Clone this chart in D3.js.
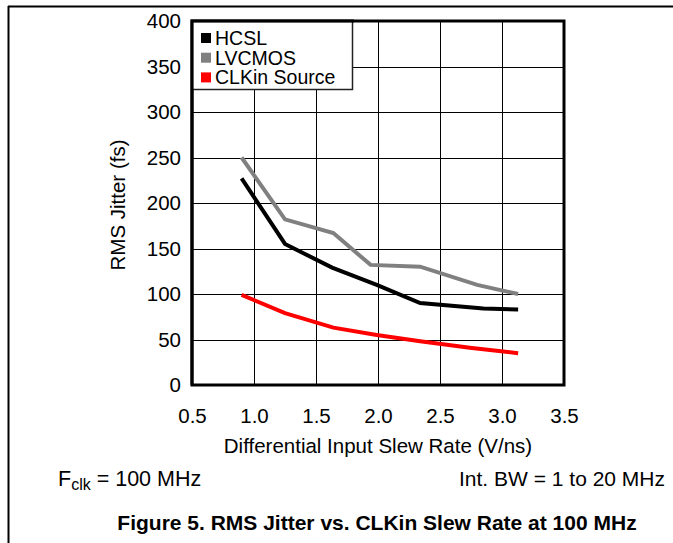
<!DOCTYPE html>
<html><head><meta charset="utf-8">
<script src="https://cdn.jsdelivr.net/npm/d3@7"></script>
<style>body{margin:0;background:#fff}svg{display:block}text{font-family:Arial,"Liberation Sans",sans-serif}</style>
</head><body>
<svg id="c" width="673" height="543"></svg>
<script>
const xTicks = [0.5,1.0,1.5,2.0,2.5,3.0,3.5];
const yTicks = [0,50,100,150,200,250,300,350,400];
const seriesNames = ["HCSL","LVCMOS","CLKin Source"];
const seriesColors = ["#000000","#808080","#ff0000"];
const hcslX = [0.9,1.25,1.63,1.99,2.34,2.85,3.13];
const hcslY = [227,155,129,110,90,84,83];
const lvcmosX = [0.9,1.25,1.64,1.94,2.34,2.80,3.13];
const lvcmosY = [250,182,167,132,130,110,100];
const clkX = [0.9,1.25,1.64,1.99,2.34,2.74,3.13];
const clkY = [99,79,63,55,48,41,35];

const FS = 20.5;
const svg = d3.select("#c");
const L=192, R=564, T=21, B=385;
const x = d3.scaleLinear().domain([0.5,3.5]).range([L,R]);
const y = d3.scaleLinear().domain([0,400]).range([B,T]);

// page frame
svg.append("line").attr("x1",8).attr("x2",673).attr("y1",6.5).attr("y2",6.5).attr("stroke","#000").attr("stroke-width",2);
svg.append("line").attr("x1",8.5).attr("x2",8.5).attr("y1",6).attr("y2",543).attr("stroke","#000").attr("stroke-width",2);

// grid
const g = svg.append("g").attr("shape-rendering","crispEdges");
g.selectAll("line.v").data(xTicks.slice(1,-1)).join("line")
  .attr("x1",d=>Math.round(x(d))+0.5).attr("x2",d=>Math.round(x(d))+0.5).attr("y1",T).attr("y2",B)
  .attr("stroke","#000").attr("stroke-width",1);
g.selectAll("line.h").data(yTicks.slice(1,-1)).join("line")
  .attr("y1",d=>Math.round(y(d))+0.5).attr("y2",d=>Math.round(y(d))+0.5).attr("x1",L).attr("x2",R)
  .attr("stroke","#000").attr("stroke-width",1);

// axes labels
const yAxis = d3.axisLeft(y).tickValues(yTicks).tickSize(0).tickPadding(11).tickFormat(d3.format("d"));
const ya = svg.append("g").attr("transform",`translate(${L},0)`).call(yAxis);
ya.select(".domain").remove();
ya.selectAll("text").attr("font-size",FS).attr("fill","#000").attr("font-family","Arial,'Liberation Sans',sans-serif");
const xAxis = d3.axisBottom(x).tickValues(xTicks).tickSize(0).tickPadding(23).tickFormat(d3.format(".1f"));
const xa = svg.append("g").attr("transform",`translate(0,${B})`).call(xAxis);
xa.select(".domain").remove();
xa.selectAll("text").attr("font-size",FS).attr("fill","#000").attr("font-family","Arial,'Liberation Sans',sans-serif");

// series
const line = d3.line().x(d=>x(d[0])).y(d=>y(d[1]));
const data = [d3.zip(hcslX,hcslY), d3.zip(lvcmosX,lvcmosY), d3.zip(clkX,clkY)];
[1,0,2].forEach(i=>{
  svg.append("path").datum(data[i]).attr("d",line).attr("fill","none")
    .attr("stroke",seriesColors[i]).attr("stroke-width",4).attr("stroke-linejoin","miter");
});

// frame
svg.append("rect").attr("x",L).attr("y",T).attr("width",R-L).attr("height",B-T)
  .attr("fill","none").attr("stroke","#000").attr("stroke-width",3);

// legend
const lg = svg.append("g");
lg.append("rect").attr("x",L+0.5).attr("y",T+0.5).attr("width",160).attr("height",68)
  .attr("fill","#fff").attr("stroke","#222").attr("stroke-width",1.5);
seriesNames.forEach((n,i)=>{
  const cy = 38 + i*19.7;
  lg.append("rect").attr("x",201).attr("y",cy-5).attr("width",10).attr("height",10).attr("fill",seriesColors[i]);
  lg.append("text").attr("x",215).attr("y",cy+7).attr("font-size",19.5).text(n);
});
svg.append("path").attr("d",`M${L},${B} V${T} H${L+162}`).attr("fill","none").attr("stroke","#000").attr("stroke-width",3);

// titles
svg.append("text").attr("transform","translate(125,205) rotate(-90)").attr("text-anchor","middle")
  .attr("font-size",FS).text("RMS Jitter (fs)");
svg.append("text").attr("x",378).attr("y",453).attr("text-anchor","middle").attr("font-size",FS)
  .text("Differential Input Slew Rate (V/ns)");
const f = svg.append("text").attr("x",58).attr("y",486).attr("font-size",21.5);
f.append("tspan").text("F");
f.append("tspan").attr("font-size",16).attr("dy",4).text("clk");
f.append("tspan").attr("dy",-4).text(" = 100 MHz");
svg.append("text").attr("x",665).attr("y",486).attr("text-anchor","end").attr("font-size",21)
  .text("Int. BW = 1 to 20 MHz");
svg.append("text").attr("x",377).attr("y",530).attr("text-anchor","middle").attr("font-size",21)
  .attr("font-weight","bold").text("Figure 5. RMS Jitter vs. CLKin Slew Rate at 100 MHz");
</script>
</body></html>
